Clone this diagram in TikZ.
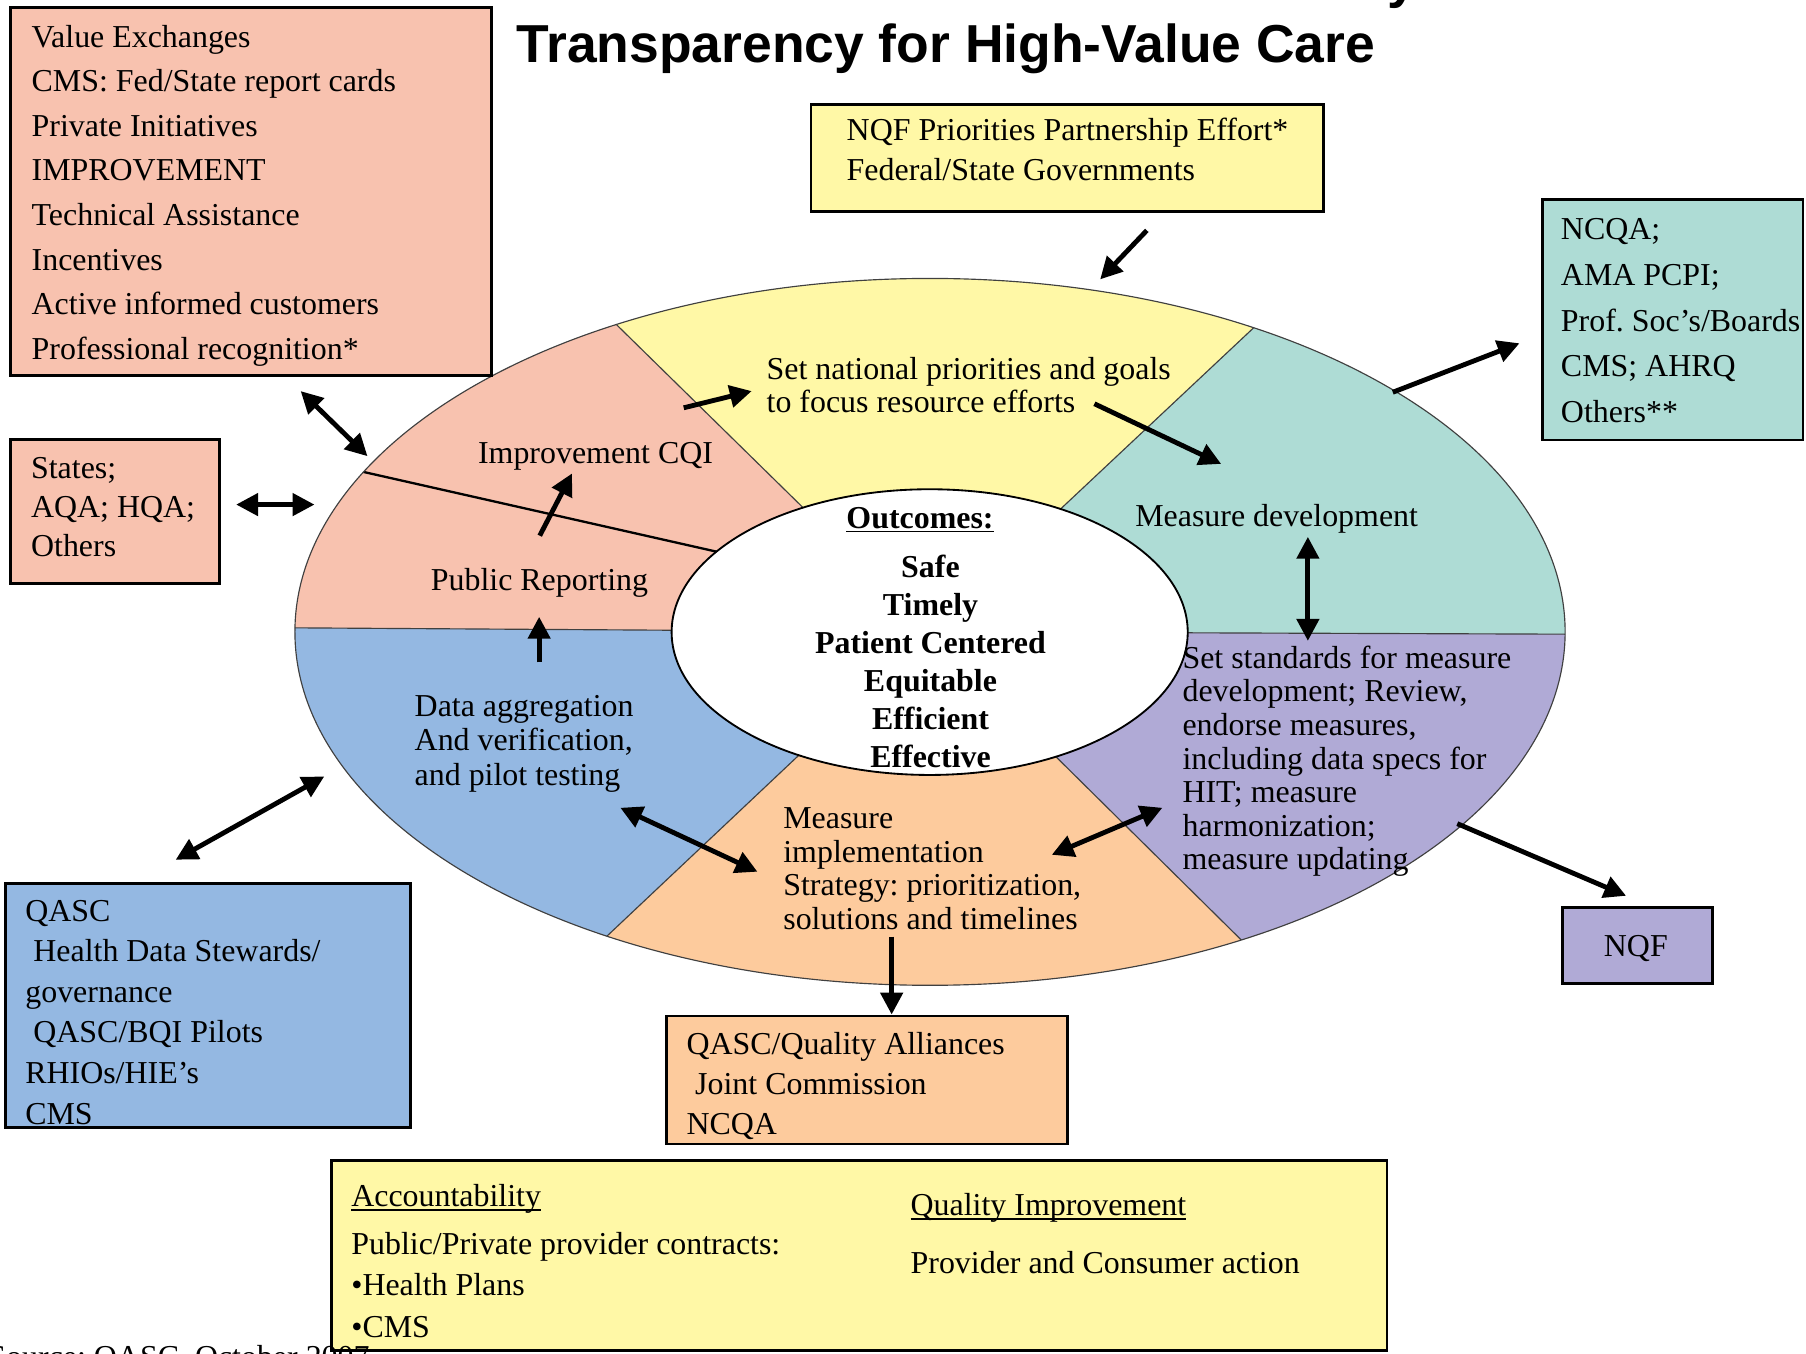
\documentclass[tikz,border=0pt]{standalone}
\usepackage{fontspec}
\setmainfont{Liberation Serif}
\newfontfamily\titlefont{Liberation Sans}
\usetikzlibrary{arrows.meta}
\frenchspacing
\newcommand\myul[1]{\setbox0\hbox{#1}\rlap{\rule[-1.8pt]{\wd0}{0.7pt}}\box0}
\newcommand\bodyfs[1]{\fontsize{13.85}{#1}\selectfont}
\definecolor{csalmon}{HTML}{F8C2AF}
\definecolor{cyellow}{HTML}{FFF8A6}
\definecolor{cteal}{HTML}{AEDCD5}
\definecolor{cpurple}{HTML}{B0AAD6}
\definecolor{cpeach}{HTML}{FDCB9D}
\definecolor{cblue}{HTML}{94B8E2}
\tikzset{
  box/.style={draw=black, line width=1.2pt, anchor=north west, inner sep=0pt, outer sep=0pt},
  txt/.style={anchor=north west, inner sep=0pt, outer sep=0pt, align=left},
  lbl/.style={anchor=base west, inner sep=0pt, outer sep=0pt, font=\bodyfs{16}},
  arr/.style={line width=2.1pt, -{Triangle[length=9.5pt,width=9.5pt]}},
  darr/.style={line width=2.1pt, {Triangle[length=9.5pt,width=9.5pt]}-{Triangle[length=9.5pt,width=9.5pt]}},
  divider/.style={line width=0.5pt, black!75},
  ring/.style={line width=0.5pt, black!75},
}
\begin{document}
\begin{tikzpicture}[x=0.5pt,y=-0.5pt]
\useasboundingbox (0,0) rectangle (1567.7,1175.3);

% ---------- ring ----------
\coordinate (C) at (807,548.5);
\begin{scope}[even odd rule]
  \clip (807.3,548.5) ellipse[x radius=551.3, y radius=306.8]
        (807,548.7) ellipse[x radius=224, y radius=124];
  \fill[csalmon] (C) -- (-846,538) -- (-846,-251) -- (-8,-251) -- cycle;
  \fill[cyellow] (C) -- (-8,-251) -- (1646,-239) -- cycle;
  \fill[cteal]   (C) -- (1646,-239) -- (2463,-239) -- (2463,554.5) -- cycle;
  \fill[cpurple] (C) -- (2463,554.5) -- (2463,1351) -- (1618.5,1351) -- cycle;
  \fill[cpeach]  (C) -- (1618.5,1351) -- (-31.5,1339) -- cycle;
  \fill[cblue]   (C) -- (-31.5,1339) -- (-846,1339) -- (-846,538) -- cycle;
  \draw[divider] (C) -- (-8,-251);
  \draw[divider] (C) -- (1646,-239);
  \draw[divider] (C) -- (2463,554.5);
  \draw[divider] (C) -- (1618.5,1351);
  \draw[divider] (C) -- (-31.5,1339);
  \draw[divider] (C) -- (-846,538);
  \draw[line width=1pt] (290,403.9) -- (650,485.2);
\end{scope}
\draw[ring] (807.3,548.5) ellipse[x radius=551.3, y radius=306.8];
\draw[ring, line width=0.8pt, black] (807,548.7) ellipse[x radius=224, y radius=124];

% ---------- title ----------
\node[anchor=base west, inner sep=0pt, font=\titlefont\bfseries\fontsize{23.2}{27}\selectfont] (ty) at (1204,-2.5) {y};
\node[anchor=base west, inner sep=0pt, font=\titlefont\bfseries\fontsize{23.2}{27}\selectfont] (title) at (448,54) {Transparency for High-Value Care};

% ---------- boxes ----------
\node[box, fill=csalmon, minimum width=208.75pt, minimum height=159.8pt] (tl) at (9,6.6) {};
\node[box, fill=cyellow, minimum width=222.5pt, minimum height=46.65pt] (nqftop) at (704,90.4) {};
\node[box, fill=cteal, minimum width=113pt, minimum height=104.3pt] (tealbox) at (1339,173.4) {};
\node[box, fill=csalmon, minimum width=90.75pt, minimum height=62.45pt] (states) at (9,381.7) {};
\node[box, fill=cblue, minimum width=175.75pt, minimum height=105.95pt] (bluebox) at (5,767.1) {};
\node[box, fill=cpeach, minimum width=174pt, minimum height=55.5pt] (peachbox) at (578.5,882) {};
\node[box, fill=cpurple, minimum width=65pt, minimum height=33pt] (nqfbox) at (1356.5,788) {};
\node[box, fill=cyellow, minimum width=458.25pt, minimum height=82.65pt] (bottombox) at (287.5,1007.2) {};

% ---------- box texts ----------
\node[txt, font=\bodyfs{19.35}] (tltext) at (27.5,21) {\rule{0pt}{10pt}Value Exchanges\\CMS: Fed/State report cards\\Private Initiatives\\IMPROVEMENT\\Technical Assistance\\Incentives\\Active informed customers\\Professional recognition*};
\node[txt, font=\bodyfs{17.5}] (nqftoptext) at (735,102) {\rule{0pt}{10pt}NQF Priorities Partnership Effort*\\Federal/State Governments};
\node[txt, font=\bodyfs{19.85}] (tealtext) at (1355,188) {\rule{0pt}{10pt}NCQA;\\AMA PCPI;\\Prof. Soc’s/Boards\\CMS; AHRQ\\Others**};
\node[txt, font=\bodyfs{16.8}] (statestext) at (27,395.6) {\rule{0pt}{10pt}States;\\AQA; HQA;\\Others};
\node[txt, font=\bodyfs{17.6}] (bluetext) at (22,779.7) {\rule{0pt}{10pt}QASC\\\hspace{3.5pt}Health Data Stewards/\\governance\\\hspace{3.5pt}QASC/BQI Pilots\\RHIOs/HIE’s\\CMS};
\node[txt, font=\bodyfs{17.25}] (peachtext) at (596,895.4) {\rule{0pt}{10pt}QASC/Quality Alliances\\\hspace{3.75pt}Joint Commission\\NCQA};
\node[anchor=base, inner sep=0pt, font=\bodyfs{16}] (nqftext) at (1420,830.6) {NQF};
\node[lbl] (acc) at (305,1047.7) {\myul{Accountability}};
\node[txt, font=\bodyfs{18.1}] (acctext) at (305,1068.7) {\rule{0pt}{10pt}Public/Private provider contracts:\\•Health Plans\\•CMS};
\node[lbl] (qi) at (790.5,1055.3) {\myul{Quality Improvement}};
\node[lbl] (qitext) at (790.5,1105.4) {Provider and Consumer action};
\node[lbl] (source) at (-10,1186.7) {Source: QASC, October 2007};

% ---------- ring texts ----------
\node[lbl] (cqi) at (415,402) {Improvement CQI};
\node[lbl] (pubrep) at (374,512.6) {Public Reporting};
\node[txt, font=\bodyfs{14.1}] (setnat) at (665.5,309.8) {\rule{0pt}{10pt}Set national priorities and goals\\to focus resource efforts};
\node[lbl] (measdev) at (985.5,457) {Measure development};
\node[anchor=base, inner sep=0pt, font=\bodyfs{16}\bfseries] (outc) at (798.6,458.5) {\myul{Outcomes:}};
\node[anchor=north, inner sep=0pt, align=center, font=\bodyfs{16.55}\bfseries] (outlist) at (807.7,480.6) {\rule{0pt}{10pt}Safe\\Timely\\Patient Centered\\Equitable\\Efficient\\Effective};
\node[txt, font=\bodyfs{14.6}] (setstd) at (1026.5,560) {\rule{0pt}{10pt}Set standards for measure\\development; Review,\\endorse measures,\\including data specs for\\HIT; measure\\harmonization;\\measure updating};
\node[txt, font=\bodyfs{14.8}] (dataagg) at (360,602.3) {\rule{0pt}{10pt}Data aggregation\\And verification,\\and pilot testing};
\node[txt, font=\bodyfs{14.65}] (measimp) at (680,699) {\rule{0pt}{10pt}Measure\\implementation\\Strategy: prioritization,\\solutions and timelines};

% ---------- arrows ----------
\coordinate (a1a) at (261,339.5);   \coordinate (a1b) at (319,396);
\coordinate (a2a) at (205,438);     \coordinate (a2b) at (273,438);
\coordinate (a3a) at (995.5,200);   \coordinate (a3b) at (955,242.5);
\coordinate (a4a) at (593.5,354);   \coordinate (a4b) at (652.5,339.5);
\coordinate (a5a) at (950,350.5);   \coordinate (a5b) at (1060,402.7);
\coordinate (a6a) at (1209,340.5);  \coordinate (a6b) at (1319,298);
\coordinate (a7a) at (1135.3,466);  \coordinate (a7b) at (1135.3,556.3);
\coordinate (a8a) at (468.5,465);   \coordinate (a8b) at (496.5,411);
\coordinate (a9a) at (468,575);     \coordinate (a9b) at (468,535.4);
\coordinate (a10a) at (152.5,746.3); \coordinate (a10b) at (281.5,674);
\coordinate (a11a) at (538.5,701.2); \coordinate (a11b) at (657.5,756.7);
\coordinate (a12a) at (913,742);     \coordinate (a12b) at (1009,701.2);
\coordinate (a13a) at (774,813);     \coordinate (a13b) at (774,880.7);
\coordinate (a14a) at (1265,715);    \coordinate (a14b) at (1411.5,777.6);
\draw[darr] (a1a) -- (a1b);
\draw[darr] (a2a) -- (a2b);
\draw[arr] (a3a) -- (a3b);
\draw[arr] (a4a) -- (a4b);
\draw[arr] (a5a) -- (a5b);
\draw[arr] (a6a) -- (a6b);
\draw[darr] (a7a) -- (a7b);
\draw[arr] (a8a) -- (a8b);
\draw[arr] (a9a) -- (a9b);
\draw[darr] (a10a) -- (a10b);
\draw[darr] (a11a) -- (a11b);
\draw[darr] (a12a) -- (a12b);
\draw[arr] (a13a) -- (a13b);
\draw[arr] (a14a) -- (a14b);
\end{tikzpicture}
\end{document}
